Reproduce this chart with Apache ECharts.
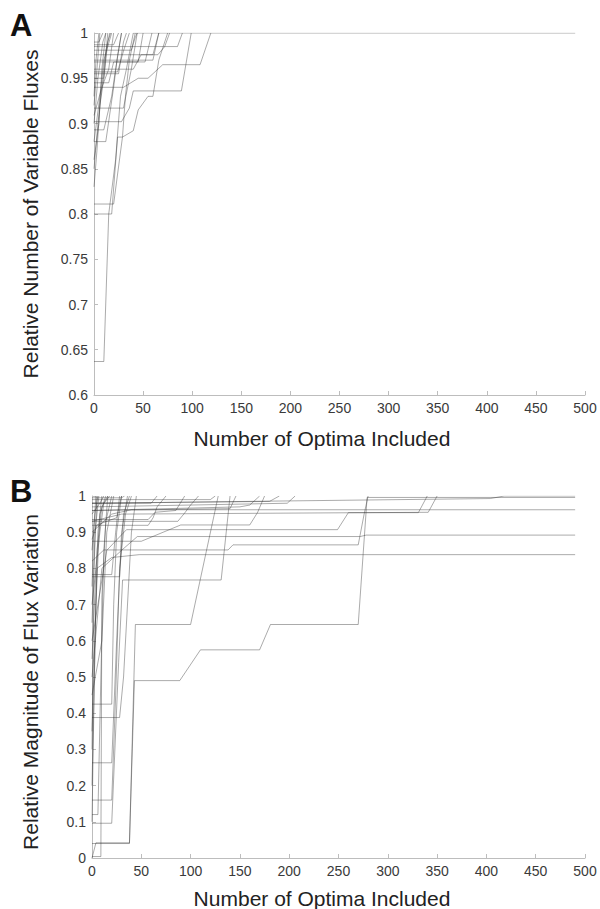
<!DOCTYPE html>
<html>
<head>
<meta charset="utf-8">
<script src="https://cdn.jsdelivr.net/npm/echarts@6/dist/echarts.min.js"></script>
<style>
html,body{margin:0;padding:0;background:#fff;}
#chart{width:600px;height:909px;}
</style>
</head>
<body>
<div id="chart"></div>
<script>
// ---- Axis ticks ----
const xTicks = [0, 50, 100, 150, 200, 250, 300, 350, 400, 450, 500];
const yTicksA = [0.6, 0.65, 0.7, 0.75, 0.8, 0.85, 0.9, 0.95, 1];
const yTicksB = [0, 0.1, 0.2, 0.3, 0.4, 0.5, 0.6, 0.7, 0.8, 0.9, 1];

// ---- Panel A: relative number of variable fluxes vs number of optima ----
const a01 = [[0,0.637],[10,0.637],[15,0.80],[22,0.86],[27,0.93],[33,0.96],[40,1],[490,1]];
const a02 = [[0,0.80],[18,0.80],[24,0.885],[29,0.885],[32,0.93],[36,0.97],[42,1]];
const a03 = [[0,0.811],[20,0.811],[29,0.885],[40,0.892],[45,0.915],[55,0.93],[60,0.93],[66,0.97],[75,1]];
const a04 = [[0,0.83],[3,0.87],[6,0.92],[10,0.95],[14,1]];
const a05 = [[0,0.86],[5,0.90],[8,0.96],[12,1]];
const a06 = [[0,0.88],[6,0.93],[10,0.97],[18,1]];
const a07 = [[0,0.90],[4,0.95],[9,0.99],[12,1]];
const a08 = [[0,0.902],[28,0.902],[36,0.917],[40,0.936],[89,0.936],[99,1]];
const a09 = [[0,0.92],[3,0.96],[6,1]];
const a10 = [[0,0.93],[2,0.97],[5,1]];
const a11 = [[0,0.95],[10,0.95],[14,0.99],[17,1]];
const a12 = [[0,0.957],[24,0.957],[30,0.98],[36,1]];
const a13 = [[0,0.94],[30,0.94],[45,0.95],[55,0.95],[70,0.965],[108,0.965],[119,1]];
const a14 = [[0,0.968],[45,0.968],[50,1]];
const a15 = [[0,0.976],[65,0.976],[72,0.985],[77,1]];
const a16 = [[0,0.987],[20,0.987],[25,1]];
const a17 = [[0,0.99],[5,0.99],[9,1]];
const a18 = [[0,0.981],[38,0.981],[42,0.995],[44,1]];
const a19 = [[0,0.955],[25,0.955],[30,0.99],[33,1]];
const a20 = [[0,0.88],[12,0.88],[20,0.94],[24,0.975],[28,1]];
const a21 = [[0,0.909],[8,0.94],[15,0.96],[20,1]];
const a22 = [[0,0.945],[15,0.945],[20,0.968],[52,0.968],[59,1]];
const a23 = [[0,0.96],[40,0.96],[48,0.976],[60,0.976],[66,1]];
const a24 = [[0,0.893],[10,0.893],[18,0.93],[22,0.96],[28,1]];
const a25 = [[0,0.917],[30,0.917],[38,0.96],[44,1]];
const a26 = [[0,0.85],[4,0.90],[8,0.94],[12,0.98],[16,1]];
const a27 = [[0,0.97],[60,0.97],[66,1]];
const a28 = [[0,0.985],[85,0.985],[90,1]];
const panelA = [a01,a02,a03,a04,a05,a06,a07,a08,a09,a10,a11,a12,a13,a14,a15,a16,a17,a18,a19,a20,a21,a22,a23,a24,a25,a26,a27,a28];

// ---- Panel B: relative magnitude of flux variation vs number of optima ----
const b01 = [[0,0.04],[38,0.04],[43,0.49],[89,0.49],[110,0.575],[170,0.575],[181,0.645],[270,0.645],[279,0.996],[490,0.996]];
const b02 = [[0,0.004],[9,0.004],[10,0.72],[14,0.93],[20,1]];
const b03 = [[0,0.0],[4,0.042],[38,0.042],[44,0.645],[100,0.645],[128,1]];
const b04 = [[0,0.096],[20,0.096],[27,0.54],[31,0.768],[131,0.768],[140,1]];
const b05 = [[0,0.16],[20,0.16],[24,0.45],[28,0.8],[34,0.95],[40,1]];
const b06 = [[0,0.263],[20,0.263],[25,0.6],[30,0.9],[36,1]];
const b07 = [[0,0.388],[28,0.388],[32,0.5],[40,0.9],[45,1]];
const b08 = [[0,0.425],[20,0.425],[22,0.7],[25,0.9],[30,1]];
const b09 = [[0,0.777],[28,0.777],[32,0.95],[38,1]];
const b10 = [[0,0.1],[3,0.6],[6,0.9],[10,1]];
const b11 = [[0,0.2],[4,0.7],[8,0.95],[14,1]];
const b12 = [[0,0.3],[2,0.8],[5,1]];
const b13 = [[0,0.55],[5,0.85],[10,0.97],[16,1]];
const b14 = [[0,0.65],[3,0.9],[7,1]];
const b15 = [[0,0.35],[5,0.80],[20,0.83],[48,0.838],[490,0.838]];
const b16 = [[0,0.5],[10,0.8],[30,0.85],[46,0.888],[272,0.888],[278,0.892],[490,0.892]];
const b17 = [[0,0.9],[20,0.95],[40,0.962],[490,0.962]];
const b18 = [[0,0.98],[404,0.993],[418,1],[490,1]];
const b19 = [[0,0.6],[15,0.85],[35,0.907],[249,0.907],[260,0.954],[331,0.954],[340,1]];
const b20 = [[0,0.93],[30,0.95],[341,0.955],[350,1]];
const b21 = [[0,0.82],[12,0.851],[138,0.851],[143,0.865],[270,0.865],[276,0.95],[280,1]];
const b22 = [[0,0.875],[50,0.875],[90,0.92],[160,0.92],[168,0.955],[175,1]];
const b23 = [[0,0.96],[150,0.97],[160,0.975],[170,1]];
const b24 = [[0,0.98],[180,0.985],[190,1]];
const b25 = [[0,0.97],[198,0.98],[206,1]];
const b26 = [[0,0.935],[57,0.935],[64,0.955],[85,0.96],[94,1]];
const b27 = [[0,0.919],[57,0.919],[62,0.94],[66,0.97],[75,1]];
const b28 = [[0,0.98],[60,0.98],[66,1]];
const b29 = [[0,0.93],[87,0.93],[94,0.953],[100,0.975],[108,1]];
const b30 = [[0,0.99],[120,0.99],[125,1]];
const b31 = [[0,0.85],[3,0.95],[6,1]];
const b32 = [[0,0.7],[8,0.9],[12,0.98],[18,1]];
const b33 = [[0,0.45],[10,0.6],[15,0.9],[22,1]];
const b34 = [[0,0.75],[2,0.92],[4,1]];
const b35 = [[0,0.95],[8,0.98],[12,1]];
const b36 = [[0,0.88],[5,0.92],[25,0.94],[30,1]];
const b37 = [[0,0.995],[30,0.995],[33,1]];
const b38 = [[0,0.783],[20,0.783],[24,0.9],[28,1]];
const b39 = [[0,0.12],[6,0.12],[9,0.5],[12,0.85],[16,1]];
const b40 = [[0,0.96],[140,0.965],[146,1]];
const panelB = [b01,b02,b03,b04,b05,b06,b07,b08,b09,b10,b11,b12,b13,b14,b15,b16,b17,b18,b19,b20,b21,b22,b23,b24,b25,b26,b27,b28,b29,b30,b31,b32,b33,b34,b35,b36,b37,b38,b39,b40];

const FONT = 'Liberation Sans, Arial, Helvetica, sans-serif';
const axisGray = '#bdbdbd';
const labelColor = '#3a3a3a';
const lineColor = 'rgba(50,50,50,0.55)';

function xAxisCfg(gi) {
  return {
    type: 'value', gridIndex: gi, min: xTicks[0], max: xTicks[xTicks.length - 1], interval: 50,
    axisLine: { show: true, lineStyle: { color: axisGray, width: 1 } },
    axisTick: { show: true, inside: true, length: 4, lineStyle: { color: axisGray } },
    axisLabel: { fontSize: 14, color: labelColor, margin: 6, fontFamily: FONT },
    splitLine: { show: false }
  };
}
function yAxisCfg(gi, ticks, step) {
  return {
    type: 'value', gridIndex: gi, min: ticks[0], max: ticks[ticks.length - 1], interval: step,
    axisLine: { show: true, lineStyle: { color: axisGray, width: 1 } },
    axisTick: { show: true, inside: true, length: 4, lineStyle: { color: axisGray } },
    axisLabel: { fontSize: 14, color: labelColor, margin: 6, fontFamily: FONT,
      formatter: function (v) { return String(Math.round(v * 100) / 100); } },
    splitLine: { show: false }
  };
}

const series = [];
panelA.forEach(function (d) {
  series.push({ type: 'line', xAxisIndex: 0, yAxisIndex: 0, data: d, showSymbol: false, symbol: 'none',
    lineStyle: { color: lineColor, width: 0.75 }, silent: true });
});
panelB.forEach(function (d) {
  series.push({ type: 'line', xAxisIndex: 1, yAxisIndex: 1, data: d, showSymbol: false, symbol: 'none',
    lineStyle: { color: lineColor, width: 0.75 }, silent: true });
});

const chart = echarts.init(document.getElementById('chart'), null, { renderer: 'svg' });
chart.setOption({
  animation: false,
  backgroundColor: '#ffffff',
  grid: [
    { left: 94, top: 33, width: 491, height: 362 },
    { left: 92, top: 496, width: 493, height: 362 }
  ],
  xAxis: [xAxisCfg(0), xAxisCfg(1)],
  yAxis: [yAxisCfg(0, yTicksA, 0.05), yAxisCfg(1, yTicksB, 0.1)],
  series: series,
  graphic: [
    { type: 'text', left: 10, top: 10, style: { text: 'A', fontSize: 31, fontWeight: 'bold', fill: '#111', fontFamily: FONT } },
    { type: 'text', left: 10, top: 476, style: { text: 'B', fontSize: 31, fontWeight: 'bold', fill: '#111', fontFamily: FONT } },
    { type: 'text', x: 322, y: 438, style: { text: 'Number of Optima Included', fontSize: 21, fill: '#222', fontFamily: FONT, align: 'center', verticalAlign: 'middle' } },
    { type: 'text', x: 322, y: 898, style: { text: 'Number of Optima Included', fontSize: 21, fill: '#222', fontFamily: FONT, align: 'center', verticalAlign: 'middle' } },
    { type: 'text', x: 30, y: 214, rotation: Math.PI / 2, style: { text: 'Relative Number of Variable Fluxes', fontSize: 21, fill: '#222', fontFamily: FONT, align: 'center', verticalAlign: 'middle' } },
    { type: 'text', x: 30, y: 682, rotation: Math.PI / 2, style: { text: 'Relative Magnitude of Flux Variation', fontSize: 21, fill: '#222', fontFamily: FONT, align: 'center', verticalAlign: 'middle' } }
  ]
});
</script>
</body>
</html>
